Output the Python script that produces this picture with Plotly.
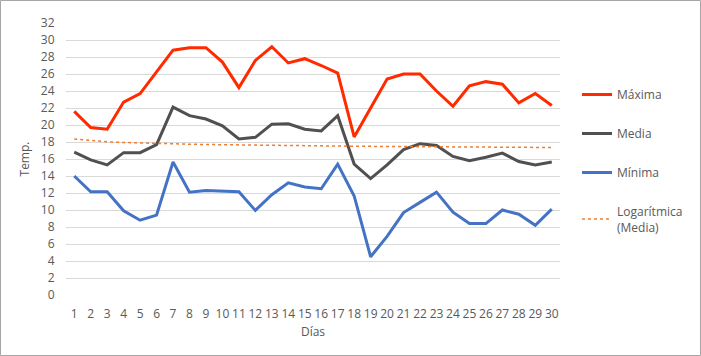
import numpy as np
import plotly.graph_objects as go

dias = list(range(1, 31))
maxima = [21.6, 19.7, 19.5, 22.7, 23.7, 26.2, 28.8, 29.1, 29.1, 27.4,
          24.4, 27.6, 29.2, 27.3, 27.8, 27.0, 26.1, 18.6, 22.0, 25.4,
          26.0, 26.0, 24.0, 22.2, 24.6, 25.1, 24.8, 22.6, 23.7, 22.3]
media = [16.8, 15.9, 15.3, 16.75, 16.75, 17.7, 22.1, 21.1, 20.7, 19.9,
         18.35, 18.55, 20.1, 20.15, 19.5, 19.3, 21.1, 15.4, 13.7, 15.3,
         17.1, 17.8, 17.6, 16.3, 15.8, 16.2, 16.7, 15.7, 15.3, 15.65]
minima = [14.0, 12.15, 12.15, 9.9, 8.8, 9.4, 15.65, 12.1, 12.3, 12.2,
          12.15, 9.95, 11.8, 13.2, 12.7, 12.5, 15.4, 11.65, 4.5, 6.9,
          9.7, 10.9, 12.1, 9.75, 8.4, 8.4, 10.0, 9.5, 8.2, 10.1]
y_ticks = list(range(0, 33, 2))

# Logarithmic trendline of "Media" (least squares on ln(x))
x_arr = np.array(dias, dtype=float)
a, b = np.polyfit(np.log(x_arr), np.array(media), 1)
trend = a * np.log(x_arr) + b

FONT = "Open Sans"
GRAY = "#595959"

fig = go.Figure()
fig.add_trace(go.Scatter(x=dias, y=maxima, mode="lines", name="Máxima",
                         legendgroup="g1",
                         line=dict(color="#FF2A00", width=3)))
fig.add_trace(go.Scatter(x=dias, y=media, mode="lines", name="Media",
                         legendgroup="g2",
                         line=dict(color="#505050", width=3)))
fig.add_trace(go.Scatter(x=dias, y=minima, mode="lines", name="Mínima",
                         legendgroup="g3",
                         line=dict(color="#4472C4", width=3)))
fig.add_trace(go.Scatter(x=dias, y=trend, mode="lines",
                         name="Logarítmica<br>(Media)",
                         legendgroup="g4",
                         line=dict(color="#ED7D31", width=1.5, dash="dot")))

L, R, T, B = 66, 141, 23, 61
W, H = 701, 356
pw, ph = W - L - R, H - T - B

fig.update_layout(
    width=W, height=H,
    margin=dict(l=L, r=R, t=T, b=B),
    paper_bgcolor="white", plot_bgcolor="white",
    font=dict(family=FONT, size=12, color=GRAY),
    showlegend=True,
    legend=dict(x=(577 - L) / pw, y=(295 - 80) / ph, xanchor="left", yanchor="top",
                traceorder="grouped", tracegroupgap=20,
                font=dict(family=FONT, size=12, color=GRAY),
                bgcolor="rgba(0,0,0,0)"),
    xaxis=dict(range=[0.5, 30.5], tickmode="array", tickvals=dias,
               ticktext=[str(d) for d in dias], showgrid=False,
               showline=False, zeroline=False,
               ticks="outside", ticklen=8, tickcolor="rgba(0,0,0,0)",
               tickfont=dict(size=12, color=GRAY),
               title=dict(text="Días", font=dict(size=12, color=GRAY), standoff=6)),
    yaxis=dict(range=[0, 32], tickmode="array", tickvals=y_ticks,
               showgrid=True, gridcolor="#D9D9D9", gridwidth=1,
               zeroline=False, showline=False,
               ticks="outside", ticklen=8, tickcolor="rgba(0,0,0,0)",
               tickfont=dict(size=12, color=GRAY),
               title=dict(text="Temp.", font=dict(size=12, color=GRAY), standoff=8)),
    shapes=[dict(type="rect", xref="paper", yref="paper",
                 x0=(0.5 - L) / pw, x1=(700.5 - L) / pw,
                 y0=(295 - 355.5) / ph, y1=(295 - 0.5) / ph,
                 line=dict(color="#A6A6A6", width=1), fillcolor="rgba(0,0,0,0)",
                 layer="below")],
)

fig.write_html("out.html", config={"displayModeBar": False},
               post_script="document.body.style.margin='0';")
